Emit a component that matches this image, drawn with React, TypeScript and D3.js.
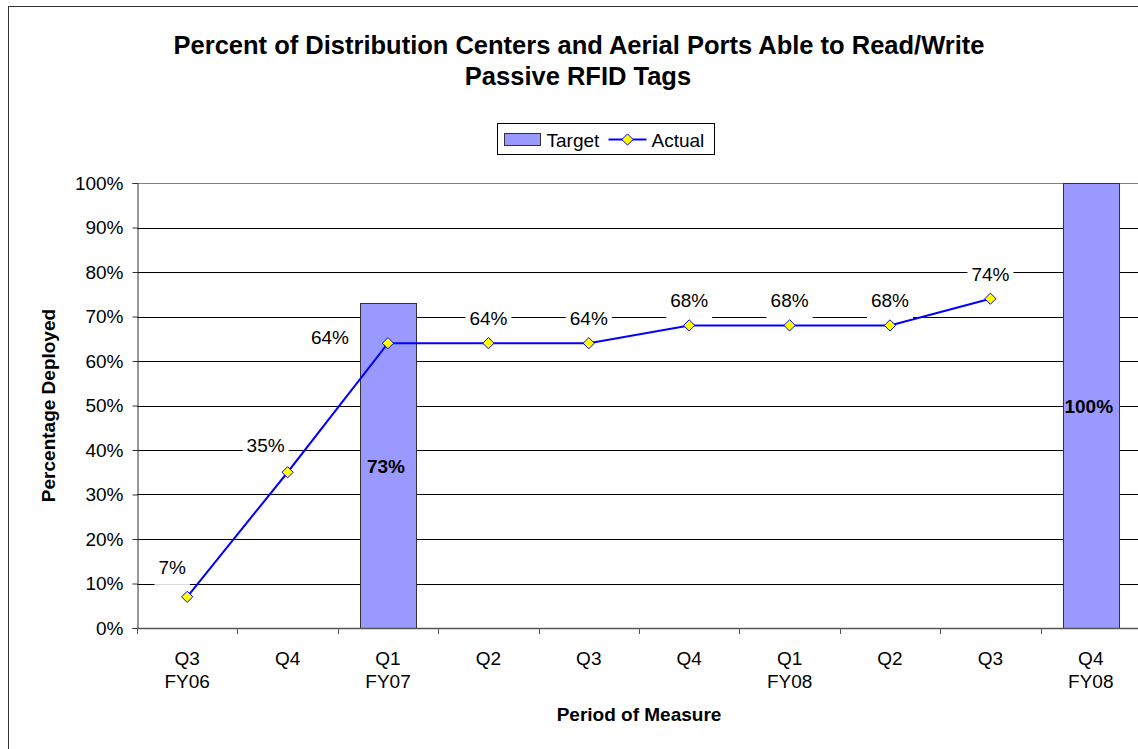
import { useEffect, useRef } from "react"
import * as d3 from "d3"

const quarters = ["Q3", "Q4", "Q1", "Q2", "Q3", "Q4", "Q1", "Q2", "Q3", "Q4"]
const fiscalYears = ["FY06", "", "FY07", "", "", "", "FY08", "", "", "FY08"]
const targetValues: (number | null)[] = [null, null, 73, null, null, null, null, null, null, 100]
const actualValues: (number | null)[] = [7, 35, 64, 64, 64, 68, 68, 68, 74, null]
const yTicks = [0, 10, 20, 30, 40, 50, 60, 70, 80, 90, 100]

// label nudges (px, relative to the marker; y is the baseline) so labels sit like the original
const labelShift: [number, number][] = [
  [-15, -23], [-22, -20], [-58, 1], [0, -18], [0, -18], [0, -18], [0, -18], [0, -18], [0, -18], [0, 0],
]

export default function App() {
  const svgRef = useRef<SVGSVGElement>(null)

  useEffect(() => {
    if (!svgRef.current) return
    const width = 1138
    const height = 749
    const margin = { top: 183, right: -3, bottom: 121, left: 137 }
    const font = "'Liberation Sans', Arial, sans-serif"
    const fs = 19

    const svg = d3.select(svgRef.current)
    svg.selectAll("*").remove()
    svg.attr("width", width).attr("height", height)

    // chart frame
    svg
      .append("rect")
      .attr("x", 8.5)
      .attr("y", 6.5)
      .attr("width", width + 10)
      .attr("height", height + 10)
      .attr("fill", "#fff")
      .attr("stroke", "#333")

    const idx = quarters.map((_, i) => i)
    const band = d3.scaleBand<number>().domain(idx).range([margin.left, width - margin.right])
    const cx = (i: number) => (band(i) as number) + band.bandwidth() / 2

    const y = d3
      .scaleLinear()
      .domain([0, 100])
      .range([height - margin.bottom, margin.top])

    // gridlines
    svg
      .append("g")
      .selectAll("line")
      .data(yTicks.filter((t) => t > 0))
      .join("line")
      .attr("x1", margin.left)
      .attr("x2", width)
      .attr("y1", (d) => Math.round(y(d)) + 0.5)
      .attr("y2", (d) => Math.round(y(d)) + 0.5)
      .attr("stroke", (d) => (d === 100 ? "#808080" : "#000"))
      .attr("stroke-width", 1)

    // target bars
    const bars = idx.filter((i) => targetValues[i] != null)
    svg
      .append("g")
      .selectAll("rect")
      .data(bars)
      .join("rect")
      .attr("x", (i) => Math.round(cx(i) - 28) + 0.5)
      .attr("width", 56)
      .attr("y", (i) => Math.round(y(targetValues[i] as number)) + 0.5)
      .attr("height", (i) => Math.round(y(0)) - Math.round(y(targetValues[i] as number)))
      .attr("fill", "#9999FF")
      .attr("stroke", "#333")
      .attr("stroke-width", 1)

    svg
      .append("g")
      .selectAll("text")
      .data(bars)
      .join("text")
      .attr("x", (i) => cx(i) - 2)
      .attr("y", (i) => (y(targetValues[i] as number) + y(0)) / 2 + 7)
      .attr("text-anchor", "middle")
      .attr("font-family", font)
      .attr("font-size", fs)
      .attr("font-weight", "bold")
      .text((i) => `${targetValues[i]}%`)

    // axes
    const yAxis = svg
      .append("g")
      .attr("transform", `translate(${margin.left + 0.5},0)`)
      .call(
        d3
          .axisLeft(y)
          .tickValues(yTicks)
          .tickSize(5)
          .tickPadding(9)
          .tickFormat((d) => `${d}%`),
      )
    yAxis.select(".domain").attr("stroke", "#333")
    yAxis.selectAll(".tick line").attr("stroke", "#333")
    yAxis.selectAll("text").attr("font-family", font).attr("font-size", fs).attr("fill", "#000")

    const xg = svg.append("g")
    xg.append("line")
      .attr("x1", margin.left)
      .attr("x2", width)
      .attr("y1", Math.round(y(0)) + 0.5)
      .attr("y2", Math.round(y(0)) + 0.5)
      .attr("stroke", "#555")
      .attr("stroke-width", 1.5)
    xg.selectAll("line.tk")
      .data(idx)
      .join("line")
      .attr("class", "tk")
      .attr("x1", (i) => Math.round(band(i) as number) + 0.5)
      .attr("x2", (i) => Math.round(band(i) as number) + 0.5)
      .attr("y1", y(0))
      .attr("y2", y(0) + 6)
      .attr("stroke", "#555")
    const labels = xg
      .selectAll("text")
      .data(idx)
      .join("text")
      .attr("text-anchor", "middle")
      .attr("font-family", font)
      .attr("font-size", fs)
    labels
      .append("tspan")
      .attr("x", (i) => cx(i))
      .attr("y", 665)
      .text((i) => quarters[i])
    labels
      .append("tspan")
      .attr("x", (i) => cx(i))
      .attr("y", 688)
      .text((i) => fiscalYears[i])

    // actual line
    const pts = idx.filter((i) => actualValues[i] != null)
    const line = d3
      .line<number>()
      .x((i) => cx(i))
      .y((i) => y(actualValues[i] as number))
    svg
      .append("path")
      .datum(pts)
      .attr("d", line)
      .attr("fill", "none")
      .attr("stroke", "#0000FF")
      .attr("stroke-width", 2)

    const diamond = d3.symbol().type(d3.symbolDiamond2).size(80)
    svg
      .append("g")
      .selectAll("path")
      .data(pts)
      .join("path")
      .attr("d", diamond)
      .attr("transform", (i) => `translate(${cx(i)},${y(actualValues[i] as number)})`)
      .attr("fill", "#FFFF00")
      .attr("stroke", "#0000FF")
      .attr("stroke-width", 1)

    // actual labels with white backing
    const lbl = svg
      .append("g")
      .selectAll("g")
      .data(pts)
      .join("g")
      .attr(
        "transform",
        (i) => `translate(${cx(i) + labelShift[i][0]},${y(actualValues[i] as number) + labelShift[i][1]})`,
      )
    lbl
      .append("rect")
      .attr("x", (i) => -(String(actualValues[i]).length * 0.556 + 0.889) * fs / 2 - 4)
      .attr("y", -19)
      .attr("width", (i) => (String(actualValues[i]).length * 0.556 + 0.889) * fs + 8)
      .attr("height", 30)
      .attr("fill", "#fff")
    lbl
      .append("text")
      .attr("text-anchor", "middle")
      .attr("font-family", font)
      .attr("font-size", fs)
      .text((i) => `${actualValues[i]}%`)

    // titles
    const title = svg
      .append("text")
      .attr("text-anchor", "middle")
      .attr("font-family", font)
      .attr("font-size", 25.5)
      .attr("font-weight", "bold")
    title.append("tspan").attr("x", 579).attr("y", 54).text("Percent of Distribution Centers and Aerial Ports Able to Read/Write")
    title.append("tspan").attr("x", 578).attr("y", 85).text("Passive RFID Tags")

    svg
      .append("text")
      .attr("x", 639)
      .attr("y", 721)
      .attr("text-anchor", "middle")
      .attr("font-family", font)
      .attr("font-size", fs)
      .attr("font-weight", "bold")
      .text("Period of Measure")

    svg
      .append("text")
      .attr("transform", `translate(55,${(margin.top + y(0)) / 2}) rotate(-90)`)
      .attr("text-anchor", "middle")
      .attr("font-family", font)
      .attr("font-size", fs)
      .attr("font-weight", "bold")
      .text("Percentage Deployed")

    // legend
    const lg = svg.append("g").attr("transform", "translate(497.5,123.5)")
    lg.append("rect").attr("width", 217).attr("height", 31).attr("fill", "#fff").attr("stroke", "#000")
    lg.append("rect").attr("x", 7).attr("y", 10).attr("width", 36).attr("height", 12).attr("fill", "#9999FF").attr("stroke", "#333")
    lg.append("text").attr("x", 49).attr("y", 23).attr("font-family", font).attr("font-size", fs).text("Target")
    lg.append("line").attr("x1", 111).attr("x2", 149).attr("y1", 16).attr("y2", 16).attr("stroke", "#0000FF").attr("stroke-width", 2)
    lg.append("path").attr("d", diamond).attr("transform", "translate(130,16)").attr("fill", "#FFFF00").attr("stroke", "#0000FF")
    lg.append("text").attr("x", 154).attr("y", 23).attr("font-family", font).attr("font-size", fs).text("Actual")
  }, [])

  return (
    <div style={{ position: "absolute", left: 0, top: 0 }}>
      <svg ref={svgRef} style={{ display: "block" }} />
    </div>
  )
}
